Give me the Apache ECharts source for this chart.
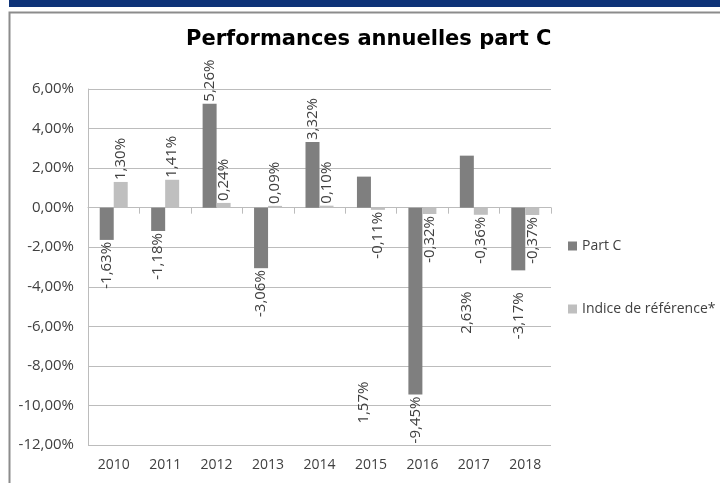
<!DOCTYPE html>
<html>
<head>
<meta charset="utf-8">
<script src="https://cdn.jsdelivr.net/npm/echarts@6/dist/echarts.min.js"></script>
<style>
  html, body { margin: 0; padding: 0; background: #fff; }
  #chart { width: 720px; height: 483px; }
</style>
</head>
<body>
<div id="chart"></div>
<script>
// données (en %)
var years = ['2010', '2011', '2012', '2013', '2014', '2015', '2016', '2017', '2018'];
var partC = [-1.63, -1.18, 5.26, -3.06, 3.32, 1.57, -9.45, 2.63, -3.17];
var indice = [1.30, 1.41, 0.24, 0.09, 0.10, -0.11, -0.32, -0.36, -0.37];

var fmt = function (v) {
    return v.toFixed(2).replace('.', ',') + '%';
};

// quelques étiquettes sont décalées dans l'original (px vers le bas)
var nudgeC = { 5: 249, 7: 180, 8: 20 };

function buildData(values, nudge) {
    return values.map(function (v, i) {
        var lbl = { align: v < 0 ? 'right' : 'left' };
        if (nudge && nudge[i]) lbl.offset = [-nudge[i], 0];
        return { value: v, label: lbl };
    });
}

var labelStyle = {
    show: true,
    position: 'outside',
    rotate: 90,
    verticalAlign: 'middle',
    distance: 2,
    fontFamily: 'Open Sans',
    fontSize: 15,
    color: '#404040',
    formatter: function (p) { return fmt(p.value); }
};

var chart = echarts.init(document.getElementById('chart'));
chart.setOption({
    animation: false,
    graphic: [
        { type: 'rect', shape: { x: 9, y: 0, width: 711, height: 7 }, style: { fill: '#0e3378' } },
        { type: 'rect', shape: { x: 9.5, y: 12.5, width: 800, height: 600 }, style: { fill: 'none', stroke: '#8c8c8c', lineWidth: 2 } }
    ],
    title: {
        text: 'Performances annuelles part C',
        left: 186,
        top: 29,
        padding: 0,
        textStyle: { fontFamily: 'DejaVu Sans', fontWeight: 'bold', fontSize: 21, color: '#000' }
    },
    legend: {
        orient: 'vertical',
        left: 563,
        top: 234,
        itemWidth: 9,
        itemHeight: 9,
        itemGap: 49,
        icon: 'rect',
        textStyle: { fontFamily: 'Open Sans', fontSize: 14, color: '#404040' },
        data: ['Part C', 'Indice de référence*']
    },
    grid: { left: 88, right: 169, top: 89, bottom: 38 },
    xAxis: [{
        type: 'category',
        data: years,
        position: 'bottom',
        axisLine: { show: false, onZero: false },
        axisTick: { show: false },
        axisLabel: { fontFamily: 'Open Sans', fontSize: 14, color: '#404040', margin: 13 }
    }, {
        type: 'category',
        data: years,
        position: 'top',
        axisLine: { show: true, onZero: true, lineStyle: { color: '#bcbcbc', width: 1 } },
        axisTick: { show: true, inside: true, length: 6, lineStyle: { color: '#bcbcbc' } },
        axisLabel: { show: false }
    }],
    yAxis: {
        type: 'value',
        min: -12,
        max: 6,
        interval: 2,
        axisLine: { show: true, lineStyle: { color: '#bcbcbc' } },
        axisTick: { show: false },
        splitLine: { lineStyle: { color: '#bcbcbc' } },
        axisLabel: {
            fontFamily: 'Open Sans', fontSize: 15, color: '#404040', margin: 14,
            formatter: function (v) { return fmt(v); }
        }
    },
    series: [{
        name: 'Part C',
        type: 'bar',
        xAxisIndex: 0,
        barWidth: 14,
        barGap: '0%',
        itemStyle: { color: '#7f7f7f' },
        label: labelStyle,
        data: buildData(partC, nudgeC)
    }, {
        name: 'Indice de référence*',
        type: 'bar',
        xAxisIndex: 0,
        barWidth: 14,
        barGap: '0%',
        itemStyle: { color: '#bfbfbf' },
        label: labelStyle,
        data: buildData(indice)
    }]
});
</script>
</body>
</html>
